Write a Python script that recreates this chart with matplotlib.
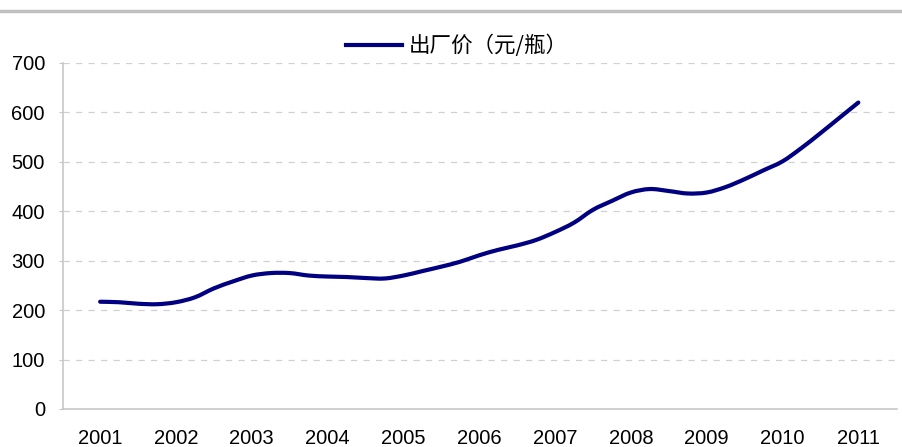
import numpy as np
import matplotlib.pyplot as plt
from matplotlib.lines import Line2D
from matplotlib.path import Path
from matplotlib.patches import PathPatch

plt.rcParams['font.family'] = ['Liberation Sans', 'Noto Sans CJK SC', 'DejaVu Sans']

# quarterly factory price, 2001Q1 .. 2011Q1 (yuan / bottle)
years = [2001, 2002, 2003, 2004, 2005, 2006, 2007, 2008, 2009, 2010, 2011]
price = [217, 216, 213, 212,
         216, 226, 244, 258,
         270, 275, 275, 270,
         268, 267, 265, 264,
         270, 279, 288, 298,
         311, 322, 331, 342,
         358, 377, 403, 421,
         438, 445, 441, 436,
         438, 449, 465, 483,
         501, 528, 558, 589,
         620]
t = years[0] + np.arange(len(price)) / 4.0
series_name = '出厂价（元/瓶）'
line_color = '#000080'


def smooth_path(x, y):
    # excel-like smoothed line: bezier through every point (catmull-rom tangents)
    x = np.asarray(x, float)
    y = np.asarray(y, float)
    verts = [(x[0], y[0])]
    codes = [Path.MOVETO]
    n = len(x)
    for i in range(n - 1):
        i0, i3 = max(i - 1, 0), min(i + 2, n - 1)
        c1 = (x[i] + (x[i + 1] - x[i0]) / 6, y[i] + (y[i + 1] - y[i0]) / 6)
        c2 = (x[i + 1] - (x[i3] - x[i]) / 6, y[i + 1] - (y[i3] - y[i]) / 6)
        verts += [c1, c2, (x[i + 1], y[i + 1])]
        codes += [Path.CURVE4] * 3
    return Path(verts, codes)


fig = plt.figure(figsize=(9.03, 4.47), dpi=100)
ax = fig.add_axes([63 / 903, 1 - 409 / 447, 834 / 903, 346 / 447])

ax.add_patch(PathPatch(smooth_path(t, price), fill=False, edgecolor=line_color,
                       lw=3, capstyle='round', joinstyle='round', zorder=3))

ax.set_xlim(2000.51, 2011.51)
ax.set_ylim(0, 700)
ax.set_xticks(years)
ax.set_xticklabels([str(y) for y in years])
ax.set_yticks(range(0, 701, 100))
ax.yaxis.grid(True, ls=(0, (5, 5)), color='#d0d0d0', lw=0.9)
ax.set_axisbelow(True)

for s in ['top', 'right']:
    ax.spines[s].set_visible(False)
for s in ['left', 'bottom']:
    ax.spines[s].set_color('#c8c8c8')
    ax.spines[s].set_linewidth(1.2)
ax.tick_params(axis='y', length=3, color='#c8c8c8', labelsize=14.5, pad=10)
ax.tick_params(axis='x', length=0, labelsize=14.5, pad=14.5)

handle = Line2D([], [], color=line_color, lw=3)
leg = ax.legend([handle], [series_name], loc='center', bbox_to_anchor=(0.472, 1.049),
                frameon=False, handlelength=2.6, handletextpad=0.3,
                prop={'family': ['Noto Sans CJK SC', 'DejaVu Sans'], 'size': 15.5})

# header rule at the top
fig.add_artist(Line2D([0, 1], [1 - 10.5 / 447] * 2, color='#c0c0c0', lw=2.5,
                      transform=fig.transFigure))

fig.savefig('out.png', dpi=100)
